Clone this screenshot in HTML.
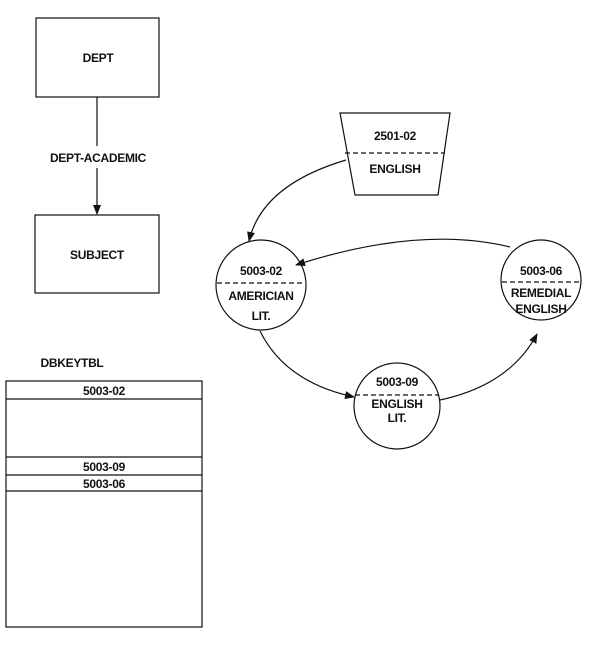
<!DOCTYPE html>
<html><head><style>
body{margin:0;background:#fff}
text{font-family:"Liberation Sans",Arial,sans-serif;font-weight:bold;font-size:12px;fill:#111;text-anchor:middle;letter-spacing:-0.3px}
</style></head><body>
<svg width="604" height="649" viewBox="0 0 604 649" xmlns="http://www.w3.org/2000/svg">
<defs><marker id="a" markerWidth="10" markerHeight="10" refX="9" refY="5" orient="auto" markerUnits="userSpaceOnUse"><path d="M0,1 L10,5 L0,9 Z" fill="#111"/></marker></defs>
<g stroke="#111" stroke-width="1.2" fill="none">
<rect x="36" y="18" width="123" height="79"/>
<rect x="35" y="215" width="124" height="78"/>
<line x1="97" y1="97" x2="97" y2="146"/>
<line x1="97" y1="168" x2="97" y2="214" marker-end="url(#a)"/>
<rect x="6" y="381" width="196" height="246"/>
<line x1="6" y1="399" x2="202" y2="399"/>
<line x1="6" y1="457" x2="202" y2="457"/>
<line x1="6" y1="475" x2="202" y2="475"/>
<line x1="6" y1="491" x2="202" y2="491"/>
<path d="M340,113 L450,113 L438,195 L355,195 Z"/>
<line x1="345" y1="153" x2="445" y2="153" stroke-dasharray="5,3"/>
<circle cx="261" cy="285" r="45"/>
<line x1="217" y1="283" x2="305" y2="283" stroke-dasharray="5,3"/>
<circle cx="541" cy="280" r="40"/>
<line x1="502" y1="282" x2="580" y2="282" stroke-dasharray="5,3"/>
<circle cx="397" cy="406" r="43"/>
<line x1="355" y1="395" x2="439" y2="395" stroke-dasharray="5,3"/>
<path d="M346,160 Q262,185 249,241" marker-end="url(#a)"/>
<path d="M510,247 Q420,225 296,265" marker-end="url(#a)"/>
<path d="M260,331 Q285,382 354,397" marker-end="url(#a)"/>
<path d="M440,400 Q510,385 537,334" marker-end="url(#a)"/>
</g>
<rect x="40" y="148" width="120" height="18" fill="#fff"/>
<text x="98" y="62">DEPT</text>
<text x="98" y="162">DEPT-ACADEMIC</text>
<text x="97" y="259">SUBJECT</text>
<text x="72" y="367">DBKEYTBL</text>
<text x="104" y="395">5003-02</text>
<text x="104" y="471">5003-09</text>
<text x="104" y="488">5003-06</text>
<text x="395" y="140">2501-02</text>
<text x="395" y="173">ENGLISH</text>
<text x="261" y="275">5003-02</text>
<text x="261" y="300">AMERICIAN</text>
<text x="261" y="320">LIT.</text>
<text x="541" y="275">5003-06</text>
<text x="541" y="297">REMEDIAL</text>
<text x="541" y="313">ENGLISH</text>
<text x="397" y="386">5003-09</text>
<text x="397" y="408">ENGLISH</text>
<text x="397" y="422">LIT.</text>
</svg>
</body></html>
